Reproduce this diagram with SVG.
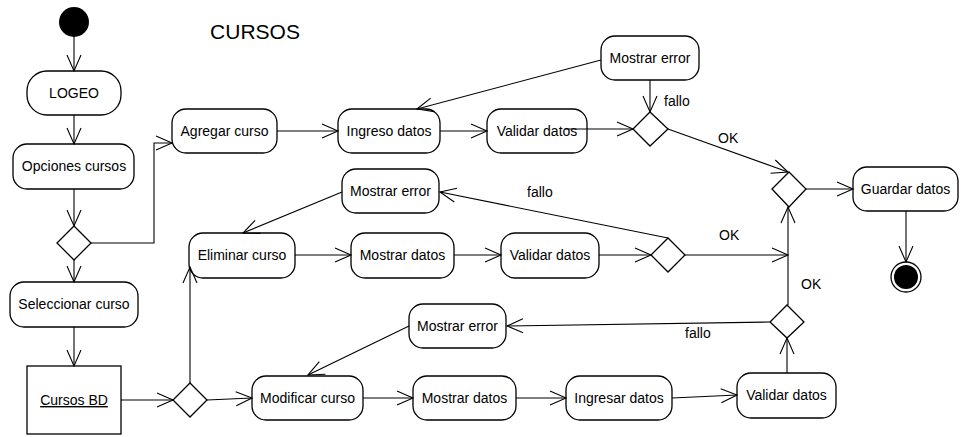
<svg xmlns="http://www.w3.org/2000/svg" width="962" height="437" viewBox="0 0 962 437">
<style>
.n{fill:#fff;stroke:#000;stroke-width:1.3}
.t{font-family:"Liberation Sans",Arial,sans-serif;font-size:14px;fill:#000;text-anchor:middle}
.l{font-family:"Liberation Sans",Arial,sans-serif;font-size:14px;fill:#000}
.e{fill:none;stroke:#000;stroke-width:1.1;marker-end:url(#a)}
</style>
<defs>
<marker id="a" markerUnits="userSpaceOnUse" markerWidth="20" markerHeight="20" viewBox="-18 -10 20 20" refX="0" refY="0" orient="auto">
<path d="M-16,-7 L0,0 L-16,7" fill="none" stroke="#000" stroke-width="1.1"/>
</marker>
</defs>
<rect width="962" height="437" fill="#fff"/>
<text x="255" y="39" style="font-family:'Liberation Sans',Arial,sans-serif;font-size:21px" text-anchor="middle">CURSOS</text>

<g id="start"><circle cx="74" cy="22" r="15" fill="#000"/></g>
<g id="logeo"><rect class="n" x="27" y="71" width="94" height="44" rx="20"/><text class="t" x="74" y="98">LOGEO</text></g>
<g id="opciones"><rect class="n" x="13" y="144" width="121" height="45" rx="14"/><text class="t" x="74" y="171">Opciones cursos</text></g>
<g id="dec1"><polygon class="n" points="74,226 91,243 74,260 57,243"/></g>
<g id="seleccionar"><rect class="n" x="10" y="282" width="128" height="45" rx="14"/><text class="t" x="74" y="309">Seleccionar curso</text></g>
<g id="cursosbd"><rect class="n" x="27" y="366" width="94" height="68"/><text class="t" x="74" y="405" text-decoration="underline">Cursos BD</text></g>
<g id="dec2"><polygon class="n" points="190,383 207,400 190,417 173,400"/></g>

<g id="agregar"><rect class="n" x="172" y="109" width="105" height="44" rx="14"/><text class="t" x="224.5" y="136">Agregar curso</text></g>
<g id="ingreso"><rect class="n" x="338" y="109" width="102" height="44" rx="14"/><text class="t" x="389" y="136">Ingreso datos</text></g>
<g id="validar1"><rect class="n" x="487" y="109" width="100" height="44" rx="14"/><text class="t" x="537" y="136">Validar datos</text></g>
<g id="error1"><rect class="n" x="601" y="36" width="98" height="44" rx="14"/><text class="t" x="650" y="63">Mostrar error</text></g>
<g id="dec3"><polygon class="n" points="650,112 668,129 650,146 633,129"/></g>
<g id="merge"><polygon class="n" points="789,172 806,189 789,207 772,189"/></g>
<g id="guardar"><rect class="n" x="853" y="167" width="105" height="44" rx="14"/><text class="t" x="905.5" y="194">Guardar datos</text></g>
<g id="end"><circle cx="906" cy="277" r="15" fill="#fff" stroke="#000" stroke-width="1.3"/><circle cx="906" cy="277" r="12" fill="#000"/></g>

<g id="error2"><rect class="n" x="342" y="169" width="97" height="44" rx="14"/><text class="t" x="390.5" y="196">Mostrar error</text></g>
<g id="eliminar"><rect class="n" x="189" y="233" width="106" height="45" rx="14"/><text class="t" x="242" y="260">Eliminar curso</text></g>
<g id="mostrar2"><rect class="n" x="351" y="233" width="103" height="45" rx="14"/><text class="t" x="402.5" y="260">Mostrar datos</text></g>
<g id="validar2"><rect class="n" x="501" y="233" width="98" height="45" rx="14"/><text class="t" x="550" y="260">Validar datos</text></g>
<g id="dec4"><polygon class="n" points="668,238 685,255 668,272 651,255"/></g>

<g id="error3"><rect class="n" x="409" y="304" width="97" height="44" rx="14"/><text class="t" x="457.5" y="331">Mostrar error</text></g>
<g id="dec5"><polygon class="n" points="787,305 804,322 787,338 770,322"/></g>
<g id="modificar"><rect class="n" x="252" y="376" width="111" height="44" rx="14"/><text class="t" x="307.5" y="403">Modificar curso</text></g>
<g id="mostrar3"><rect class="n" x="413" y="376" width="103" height="44" rx="14"/><text class="t" x="464.5" y="403">Mostrar datos</text></g>
<g id="ingresar"><rect class="n" x="566" y="376" width="106" height="44" rx="14"/><text class="t" x="619" y="403">Ingresar datos</text></g>
<g id="validar3"><rect class="n" x="737" y="373" width="99" height="45" rx="14"/><text class="t" x="786.5" y="400">Validar datos</text></g>

<g id="edges">
<path class="e" d="M74,37 V71"/>
<path class="e" d="M74,115 V144"/>
<path class="e" d="M74,189 V226"/>
<path class="e" d="M91,243 H154 V143 H172"/>
<path class="e" d="M74,260 V282"/>
<path class="e" d="M74,327 V366"/>
<path class="e" d="M121,400 H173"/>
<path class="e" d="M190,383 V267"/>
<path class="e" d="M207,400 L252,398"/>
<path class="e" d="M277,131 H338"/>
<path class="e" d="M440,131 H487"/>
<path class="e" d="M565,129 H633"/>
<path class="e" d="M650,80 V112"/>
<path class="e" d="M601,60 L417,109"/>
<path class="e" d="M668,129 L788,172"/>
<path class="e" d="M806,189 H853"/>
<path class="e" d="M906,211 V262"/>
<path class="e" d="M295,255 H351"/>
<path class="e" d="M454,255 H501"/>
<path class="e" d="M599,255 H651"/>
<path class="e" d="M685,255 H788"/>
<path class="e" d="M668,238 L440,192"/>
<path class="e" d="M342,192 L243,233"/>
<path class="e" d="M788,305 V207"/>
<path class="e" d="M363,398 H413"/>
<path class="e" d="M516,398 H566"/>
<path class="e" d="M672,398 L737,395"/>
<path class="e" d="M787,373 V338"/>
<path class="e" d="M770,322 L507,326"/>
<path class="e" d="M409,326 L308,375"/>
<text class="l" x="664" y="106">fallo</text>
<text class="l" x="718" y="143">OK</text>
<text class="l" x="527" y="197">fallo</text>
<text class="l" x="719" y="240">OK</text>
<text class="l" x="801" y="289">OK</text>
<text class="l" x="685" y="338">fallo</text>
</g>
</svg>
